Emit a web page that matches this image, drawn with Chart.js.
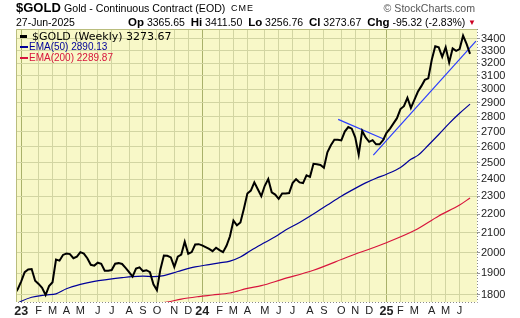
<!DOCTYPE html>
<html>
<head>
<meta charset="utf-8">
<title>$GOLD weekly</title>
<script src="https://cdn.jsdelivr.net/npm/chart.js@4.4.0/dist/chart.umd.min.js"></script>
<style>
    body { margin: 0; background: #fff; }
    #wrap { position: relative; width: 520px; height: 318px; font-family: "Liberation Sans", Arial, sans-serif; color: #000; }
    #wrap canvas { position: absolute; left: 0; top: 0; }
    .t { position: absolute; white-space: nowrap; line-height: 1; }
    .b { font-weight: bold; font-size: 11.5px; }
    .lg { position: absolute; white-space: nowrap; line-height: 1; }
    .sw { position: absolute; }
</style>
</head>
<body>
<div id="wrap">
    <canvas id="goldChart" width="520" height="318"></canvas>

    <div class="t" style="left:16px;top:1px;font-size:13px;font-weight:bold;">$GOLD</div>
    <div class="t" style="left:64px;top:3px;font-size:10.6px;">Gold - Continuous Contract (EOD)</div>
    <div class="t" style="left:231px;top:4px;font-size:9px;letter-spacing:1px;">CME</div>
    <div class="t" style="right:45px;top:3px;font-size:10.6px;color:#555;">&copy; StockCharts.com</div>

    <div class="t" style="left:16px;top:17px;font-size:10.5px;">27-Jun-2025</div>
    <div class="t" style="left:128px;top:16.5px;font-size:10.5px;"><span class="b">Op</span> 3365.65 &nbsp;<span class="b">Hi</span> 3411.50 &nbsp;<span class="b">Lo</span> 3256.76 &nbsp;<span class="b">Cl</span> 3273.67 &nbsp;<span class="b">Chg</span> -95.32 (-2.83%)</div>
    <div class="t" style="left:468px;top:19px;font-size:8px;color:#cc0022;">&#9660;</div>

    <!-- legenden inne i diagrammet -->
    <div class="sw" style="left:20px;top:35px;width:7px;height:3px;background:#000;"></div>
    <div class="lg" style="left:32px;top:30.5px;font-family:'DejaVu Sans',Verdana,sans-serif;font-size:11px;">$GOLD (Weekly) 3273.67</div>
    <div class="sw" style="left:20px;top:46px;width:8px;height:2px;background:#00009a;"></div>
    <div class="lg" style="left:29px;top:42px;font-size:10px;color:#00009a;">EMA(50) 2890.13</div>
    <div class="sw" style="left:20px;top:57px;width:8px;height:2px;background:#d8143c;"></div>
    <div class="lg" style="left:29px;top:53px;font-size:10px;color:#d8143c;">EMA(200) 2289.87</div>
</div>

<script>
// Veckostängning (Cl) för $GOLD, en punkt per vecka från veckan 19 dec 2022 till 23 jun 2025
const closeValues = [
    1804, 1826, 1862, 1905, 1918, 1920, 1865, 1850, 1832, 1800,
    1840, 1858, 1965, 1960, 1988, 1995, 1992, 1972, 1980, 2002,
    1995, 1972, 1940, 1936, 1950, 1945, 1912, 1912, 1915, 1945,
    1948, 1944, 1925, 1905, 1884, 1922, 1928, 1910, 1914, 1905,
    1848, 1822, 1918, 1985, 1984, 1976, 1930, 1980, 1990, 2054,
    1994, 2002, 2040, 2042, 2036, 2027, 2018, 2007, 2024, 2012,
    2002, 2034, 2082, 2165, 2140, 2155, 2230, 2315, 2332, 2380,
    2340, 2300, 2360, 2400, 2322, 2309, 2285, 2315, 2315, 2318,
    2376, 2399, 2380, 2376, 2422, 2413, 2492, 2490, 2485, 2468,
    2565, 2610, 2646, 2645, 2641, 2700, 2730, 2719, 2662, 2550,
    2704, 2661, 2632, 2643, 2616, 2616, 2643, 2691, 2720, 2755,
    2791, 2855, 2875, 2936, 2863, 2920, 2980, 3022, 3069, 3081,
    3226, 3336, 3327, 3249, 3327, 3205, 3318, 3298, 3313, 3425,
    3356, 3273.67
];

// EMA(50), avläst vid några veckor (veckoindex)
const ema50Weeks  = [0, 2, 5, 9, 12, 15, 19, 23, 27, 31, 34, 37, 40, 43, 47, 52, 56, 59, 62, 65,
                     68, 72, 75, 78, 82, 87, 90, 94, 98, 101, 104, 107, 111, 114, 116, 119, 122, 125, 128, 131];
const ema50Values = [1755, 1772, 1790, 1800, 1805, 1828, 1848, 1862, 1871, 1879, 1884, 1886, 1884, 1889, 1908, 1930, 1941, 1949, 1958, 1978,
                     2010, 2050, 2080, 2115, 2155, 2213, 2250, 2300, 2345, 2377, 2405, 2429, 2470, 2520, 2545, 2610, 2680, 2755, 2825, 2890.13];

// EMA(200), avläst vid några veckor
const ema200Weeks  = [38, 44, 48, 53, 57, 62, 67, 71, 77, 86, 96, 106, 115, 122, 128, 131];
const ema200Values = [1758, 1769, 1782, 1793, 1800, 1809, 1830, 1842, 1871, 1914, 1979, 2043, 2112, 2190, 2250, 2289.87];

// Trendlinjer (start- och slutpunkt)
const trendDownWeeks  = [93.1, 106.5];
const trendDownValues = [2783, 2647];
const trendUpWeeks    = [103.2, 132.7];
const trendUpValues   = [2547, 3379];

// Y-axelns etiketter
const yTicks = [1800, 1900, 2000, 2100, 2200, 2300, 2400, 2500, 2600, 2700, 2800, 2900, 3000, 3100, 3200, 3300, 3400];
const monthLetters = ["J", "F", "M", "A", "M", "J", "J", "A", "S", "O", "N", "D"];

/**Bygger månadsmarkeringar: första veckan (måndag) i varje ny månad.
 * @returns {Array<{idx: number, label: string, year: boolean}>}
 */
function buildMonthTicks() {
    const ticks = [];
    let prevMonth = null;
    for (let i = 0; i < closeValues.length; i++) {
        const d = new Date(Date.UTC(2022, 11, 19 + 7 * i));
        const m = d.getUTCMonth();
        if (prevMonth !== null && m !== prevMonth) {
            const isYear = m === 0;
            ticks.push({
                idx: i,
                label: isYear ? String(d.getUTCFullYear()).slice(2) : monthLetters[m],
                year: isYear
            });
        }
        prevMonth = m;
    }
    return ticks;
}

const monthTicks = buildMonthTicks();
const tickByIdx = {};
monthTicks.forEach(t => { tickByIdx[t.idx] = t; });

const toPoints = (xs, ys) => xs.map((x, i) => ({ x: x, y: ys[i] }));

//Ritar bakgrund och ram runt plottytan.
const plotFrame = {
    id: "plotFrame",
    beforeDraw(chart) {
        const { ctx, chartArea: a } = chart;
        ctx.save();
        ctx.fillStyle = "#f8f8c8";
        ctx.fillRect(a.left, a.top, a.right - a.left, a.bottom - a.top);
        ctx.restore();
    },
    afterDraw(chart) {
        const { ctx, chartArea: a } = chart;
        ctx.save();
        ctx.lineWidth = 1;
        ctx.strokeStyle = "#b9bd7e";
        ctx.beginPath();
        ctx.moveTo(a.left + 0.5, a.bottom);
        ctx.lineTo(a.left + 0.5, a.top + 0.5);
        ctx.lineTo(a.right, a.top + 0.5);
        ctx.stroke();
        ctx.strokeStyle = "#8a8a8a";
        ctx.setLineDash([1, 2]);
        ctx.beginPath();
        ctx.moveTo(a.right + 0.5, a.top);
        ctx.lineTo(a.right + 0.5, a.bottom + 0.5);
        ctx.lineTo(a.left, a.bottom + 0.5);
        ctx.stroke();
        ctx.restore();
    }
};

function createGoldChart() {
    const ctx = document.getElementById("goldChart");

    new Chart(ctx, {
        type: "line",
        data: {
            datasets: [
                {
                    label: "$GOLD (Weekly)",
                    data: closeValues.map((v, i) => ({ x: i, y: v })),
                    borderColor: "#000",
                    borderWidth: 2,
                    tension: 0
                },
                {
                    label: "Trend ned",
                    data: toPoints(trendDownWeeks, trendDownValues),
                    borderColor: "#2a3cff",
                    borderWidth: 1.2
                },
                {
                    label: "Trend upp",
                    data: toPoints(trendUpWeeks, trendUpValues),
                    borderColor: "#2a3cff",
                    borderWidth: 1.2
                },
                {
                    label: "EMA(50)",
                    data: toPoints(ema50Weeks, ema50Values),
                    borderColor: "#00009a",
                    borderWidth: 1.2,
                    cubicInterpolationMode: "monotone"
                },
                {
                    label: "EMA(200)",
                    data: toPoints(ema200Weeks, ema200Values),
                    borderColor: "#d8143c",
                    borderWidth: 1.2,
                    cubicInterpolationMode: "monotone"
                }
            ]
        },
        options: {
            responsive: false,
            animation: false,
            devicePixelRatio: 1,
            layout: { padding: { left: 16, top: 29, right: 0, bottom: 0 } },
            plugins: { legend: { display: false }, tooltip: { enabled: false } },
            elements: { point: { radius: 0 } },
            scales: {
                x: {
                    type: "linear",
                    min: 0.5,
                    max: 133,
                    afterBuildTicks: s => { s.ticks = monthTicks.map(t => ({ value: t.idx })); },
                    afterFit: s => { s.height = 16; },
                    ticks: {
                        autoSkip: false,
                        maxRotation: 0,
                        padding: 2,
                        color: "#222",
                        font: c => {
                            const t = c.tick ? tickByIdx[c.tick.value] : null;
                            return (t && t.year)
                                ? { family: "'Liberation Sans', Arial", size: 12.5, weight: "bold" }
                                : { family: "'Liberation Sans', Arial", size: 11 };
                        },
                        callback: v => (tickByIdx[v] ? tickByIdx[v].label : "")
                    },
                    grid: {
                        color: c => {
                            const t = c.tick ? tickByIdx[c.tick.value] : null;
                            return (t && t.year) ? "#a9b16a" : "#d2d5a2";
                        },
                        drawTicks: false
                    },
                    border: { display: false }
                },
                y: {
                    type: "logarithmic",
                    position: "right",
                    min: 1769,
                    max: 3482,
                    afterBuildTicks: s => { s.ticks = yTicks.map(v => ({ value: v })); },
                    afterFit: s => { s.width = 43; },
                    ticks: {
                        padding: 1,
                        color: "#222",
                        font: { family: "'Liberation Sans', Arial", size: 11 },
                        callback: v => String(v)
                    },
                    grid: {
                        color: "#d2d5a2",
                        drawTicks: true,
                        tickLength: 3,
                        tickColor: "#999"
                    },
                    border: { display: false }
                }
            }
        },
        plugins: [plotFrame]
    });
}

createGoldChart();
</script>
</body>
</html>
